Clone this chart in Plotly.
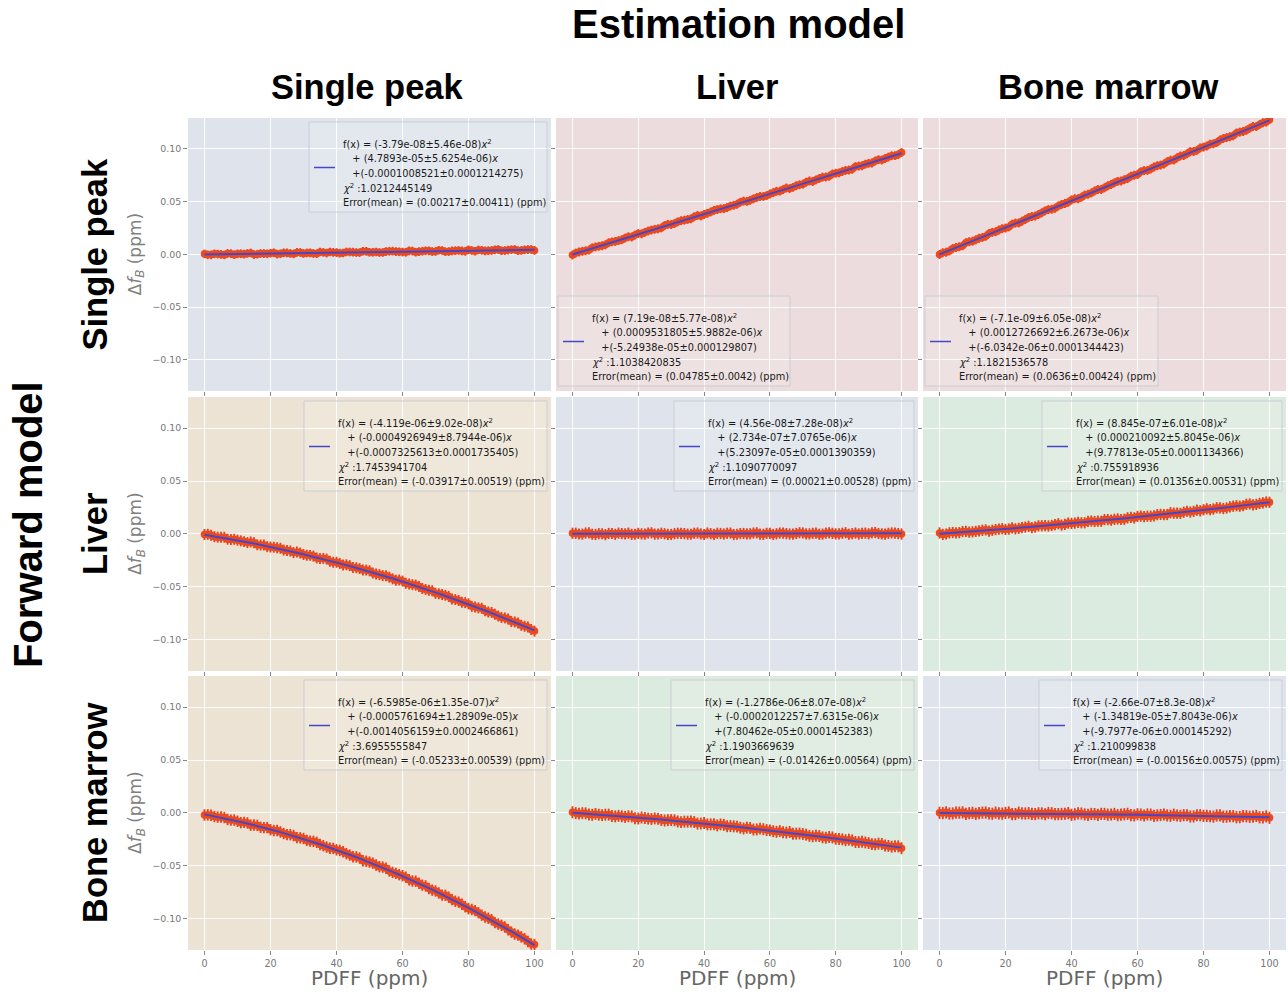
import plotly.graph_objects as go

W, H = 1288, 994

# PDFF sampling grids (ppm): even and odd PDFF values
pdff_even = list(range(0, 101, 2))
pdff_odd = list(range(1, 100, 2))

models = ["Single peak", "Liver", "Bone marrow"]

# Field-map shift estimates Δf_B (ppm); rows = forward model, columns = estimation model
# values at even PDFF
dfb_single_single = [0.0005, -0.0004, 0.0003, -0.0005, 0.0007, 0.0005, 0.0002, 0.0014, 0.0002, 0.0008,
                     0.0011, 0.0003, 0.0015, 0.0009, 0.0019, 0.0009, 0.0015, 0.0007, 0.0019, 0.0023,
                     0.0017, 0.0013, 0.0023, 0.0017, 0.0030, 0.0020, 0.0023, 0.0018, 0.0030, 0.0027,
                     0.0022, 0.0034, 0.0021, 0.0030, 0.0034, 0.0028, 0.0037, 0.0027, 0.0035, 0.0033,
                     0.0043, 0.0030, 0.0039, 0.0035, 0.0043, 0.0035, 0.0041, 0.0047, 0.0038, 0.0046,
                     0.0038]
dfb_single_liver = [-0.0006, 0.0023, 0.0035, 0.0063, 0.0077, 0.0091, 0.0119, 0.0131, 0.0155, 0.0165,
                    0.0198, 0.0209, 0.0231, 0.0243, 0.0273, 0.0283, 0.0309, 0.0325, 0.0337, 0.0370,
                    0.0378, 0.0403, 0.0425, 0.0434, 0.0459, 0.0476, 0.0506, 0.0513, 0.0540, 0.0550,
                    0.0573, 0.0599, 0.0615, 0.0624, 0.0652, 0.0666, 0.0697, 0.0707, 0.0733, 0.0741,
                    0.0770, 0.0786, 0.0800, 0.0833, 0.0841, 0.0864, 0.0887, 0.0895, 0.0923, 0.0937,
                    0.0966]
dfb_single_marrow = [-0.0001, 0.0020, 0.0055, 0.0073, 0.0111, 0.0125, 0.0153, 0.0172, 0.0209, 0.0231,
                     0.0250, 0.0287, 0.0298, 0.0332, 0.0360, 0.0379, 0.0413, 0.0428, 0.0460, 0.0482,
                     0.0517, 0.0528, 0.0563, 0.0583, 0.0616, 0.0632, 0.0663, 0.0693, 0.0709, 0.0742,
                     0.0758, 0.0795, 0.0810, 0.0842, 0.0858, 0.0894, 0.0917, 0.0938, 0.0975, 0.0987,
                     0.1018, 0.1046, 0.1062, 0.1099, 0.1117, 0.1152, 0.1166, 0.1197, 0.1213, 0.1249,
                     0.1278]
dfb_liver_single = [-0.0006, -0.0013, -0.0031, -0.0032, -0.0054, -0.0059, -0.0073, -0.0076, -0.0103, -0.0106,
                    -0.0124, -0.0131, -0.0153, -0.0162, -0.0172, -0.0195, -0.0203, -0.0227, -0.0232, -0.0258,
                    -0.0268, -0.0294, -0.0300, -0.0320, -0.0342, -0.0349, -0.0380, -0.0394, -0.0409, -0.0438,
                    -0.0446, -0.0473, -0.0484, -0.0516, -0.0532, -0.0562, -0.0573, -0.0591, -0.0621, -0.0647,
                    -0.0661, -0.0691, -0.0703, -0.0738, -0.0760, -0.0790, -0.0804, -0.0832, -0.0864, -0.0879,
                    -0.0919]
dfb_liver_liver = [0.0006, -0.0001, 0.0008, -0.0003, 0.0002, -0.0007, 0.0004, 0.0007, 0.0000, -0.0004,
                   0.0005, -0.0002, 0.0010, -0.0001, 0.0001, -0.0005, 0.0006, 0.0003, -0.0003, 0.0008,
                   -0.0006, 0.0002, 0.0006, -0.0001, 0.0008, -0.0003, 0.0004, 0.0001, 0.0010, -0.0004,
                   0.0005, 0.0001, 0.0008, -0.0001, 0.0004, 0.0009, 0.0000, 0.0007, -0.0002, 0.0010,
                   0.0000, 0.0006, -0.0003, 0.0008, 0.0005, 0.0001, 0.0013, 0.0000, 0.0005, 0.0008,
                   -0.0001]
dfb_liver_marrow = [0.0009, -0.0001, 0.0013, 0.0012, 0.0023, 0.0019, 0.0028, 0.0038, 0.0034, 0.0046,
                    0.0042, 0.0057, 0.0052, 0.0064, 0.0060, 0.0076, 0.0078, 0.0080, 0.0096, 0.0089,
                    0.0099, 0.0108, 0.0105, 0.0121, 0.0120, 0.0135, 0.0130, 0.0141, 0.0138, 0.0156,
                    0.0165, 0.0164, 0.0167, 0.0182, 0.0182, 0.0200, 0.0196, 0.0205, 0.0206, 0.0224,
                    0.0228, 0.0229, 0.0247, 0.0240, 0.0255, 0.0266, 0.0266, 0.0283, 0.0279, 0.0294,
                    0.0299]
dfb_marrow_single = [-0.0020, -0.0022, -0.0040, -0.0044, -0.0068, -0.0079, -0.0090, -0.0116, -0.0118, -0.0139,
                     -0.0159, -0.0167, -0.0195, -0.0206, -0.0234, -0.0242, -0.0267, -0.0278, -0.0310, -0.0334,
                     -0.0349, -0.0367, -0.0399, -0.0416, -0.0452, -0.0465, -0.0492, -0.0512, -0.0549, -0.0572,
                     -0.0593, -0.0632, -0.0646, -0.0683, -0.0715, -0.0738, -0.0777, -0.0797, -0.0835, -0.0864,
                     -0.0905, -0.0924, -0.0967, -0.0996, -0.1037, -0.1063, -0.1104, -0.1145, -0.1172, -0.1216,
                     -0.1245]
dfb_marrow_liver = [0.0006, -0.0007, -0.0004, -0.0018, -0.0017, -0.0017, -0.0030, -0.0028, -0.0038, -0.0034,
                    -0.0053, -0.0049, -0.0057, -0.0055, -0.0072, -0.0068, -0.0081, -0.0083, -0.0081, -0.0101,
                    -0.0096, -0.0108, -0.0118, -0.0113, -0.0125, -0.0130, -0.0147, -0.0142, -0.0156, -0.0154,
                    -0.0165, -0.0179, -0.0183, -0.0180, -0.0196, -0.0199, -0.0217, -0.0216, -0.0231, -0.0228,
                    -0.0245, -0.0250, -0.0253, -0.0275, -0.0272, -0.0285, -0.0297, -0.0294, -0.0312, -0.0315,
                    -0.0334]
dfb_marrow_marrow = [0.0001, 0.0005, -0.0005, 0.0002, -0.0010, 0.0000, -0.0002, 0.0003, -0.0008, -0.0005,
                     0.0000, -0.0011, 0.0002, -0.0006, -0.0010, -0.0004, -0.0013, -0.0003, -0.0011, -0.0008,
                     -0.0018, -0.0005, -0.0014, -0.0010, -0.0018, -0.0010, -0.0015, -0.0021, -0.0013, -0.0021,
                     -0.0013, -0.0025, -0.0016, -0.0023, -0.0015, -0.0027, -0.0025, -0.0022, -0.0034, -0.0022,
                     -0.0028, -0.0032, -0.0024, -0.0036, -0.0030, -0.0041, -0.0031, -0.0037, -0.0029, -0.0042,
                     -0.0046]

# values at odd PDFF
dfb_single_single_odd = [-0.0004, 0.0005, 0.0000, 0.0009, -0.0003, 0.0006, 0.0009, -0.0002, 0.0008, 0.0006,
                         0.0015, 0.0006, 0.0014, 0.0005, 0.0018, 0.0014, 0.0009, 0.0023, 0.0013, 0.0019,
                         0.0012, 0.0023, 0.0021, 0.0017, 0.0029, 0.0020, 0.0018, 0.0027, 0.0031, 0.0025,
                         0.0020, 0.0032, 0.0027, 0.0034, 0.0027, 0.0039, 0.0026, 0.0033, 0.0037, 0.0029,
                         0.0037, 0.0042, 0.0033, 0.0037, 0.0046, 0.0036, 0.0045, 0.0035, 0.0043, 0.0047]
dfb_single_liver_odd = [0.0013, 0.0029, 0.0041, 0.0071, 0.0082, 0.0111, 0.0123, 0.0139, 0.0168, 0.0183,
                        0.0195, 0.0222, 0.0238, 0.0251, 0.0285, 0.0293, 0.0320, 0.0332, 0.0357, 0.0365,
                        0.0390, 0.0417, 0.0433, 0.0444, 0.0466, 0.0494, 0.0503, 0.0527, 0.0549, 0.0558,
                        0.0586, 0.0600, 0.0630, 0.0636, 0.0661, 0.0685, 0.0692, 0.0721, 0.0734, 0.0763,
                        0.0774, 0.0797, 0.0807, 0.0838, 0.0856, 0.0867, 0.0899, 0.0910, 0.0936, 0.0947]
dfb_single_marrow_odd = [0.0016, 0.0033, 0.0065, 0.0082, 0.0121, 0.0138, 0.0161, 0.0199, 0.0215, 0.0244,
                         0.0261, 0.0297, 0.0315, 0.0350, 0.0364, 0.0394, 0.0425, 0.0437, 0.0474, 0.0494,
                         0.0528, 0.0543, 0.0571, 0.0602, 0.0616, 0.0651, 0.0679, 0.0697, 0.0719, 0.0751,
                         0.0783, 0.0797, 0.0829, 0.0847, 0.0880, 0.0895, 0.0934, 0.0954, 0.0976, 0.1010,
                         0.1028, 0.1049, 0.1085, 0.1108, 0.1125, 0.1160, 0.1178, 0.1214, 0.1233, 0.1255]
dfb_liver_single_odd = [-0.0004, -0.0026, -0.0031, -0.0050, -0.0051, -0.0066, -0.0082, -0.0084, -0.0105, -0.0121,
                        -0.0126, -0.0136, -0.0157, -0.0177, -0.0181, -0.0202, -0.0210, -0.0233, -0.0238, -0.0268,
                        -0.0279, -0.0292, -0.0317, -0.0328, -0.0342, -0.0370, -0.0385, -0.0396, -0.0425, -0.0436,
                        -0.0467, -0.0480, -0.0498, -0.0525, -0.0538, -0.0566, -0.0580, -0.0615, -0.0629, -0.0650,
                        -0.0685, -0.0699, -0.0726, -0.0742, -0.0776, -0.0794, -0.0829, -0.0842, -0.0873, -0.0904]
dfb_liver_liver_odd = [0.0006, -0.0002, 0.0009, -0.0005, 0.0001, 0.0004, -0.0004, 0.0003, 0.0007, -0.0003,
                       0.0000, 0.0008, -0.0002, 0.0006, -0.0005, 0.0002, 0.0005, -0.0002, 0.0006, 0.0000,
                       0.0008, -0.0005, 0.0004, 0.0006, -0.0006, 0.0003, 0.0000, 0.0008, -0.0002, 0.0005,
                       -0.0005, 0.0008, 0.0003, -0.0002, 0.0011, 0.0000, 0.0005, -0.0003, 0.0007, 0.0005,
                       0.0000, 0.0011, 0.0002, -0.0001, 0.0007, 0.0011, 0.0004, -0.0002, 0.0009, 0.0003]
dfb_liver_marrow_odd = [-0.0005, 0.0010, 0.0010, 0.0022, 0.0017, 0.0024, 0.0034, 0.0027, 0.0041, 0.0049,
                        0.0046, 0.0048, 0.0060, 0.0071, 0.0065, 0.0077, 0.0075, 0.0088, 0.0083, 0.0102,
                        0.0102, 0.0105, 0.0118, 0.0117, 0.0119, 0.0135, 0.0138, 0.0136, 0.0152, 0.0151,
                        0.0168, 0.0167, 0.0171, 0.0184, 0.0183, 0.0196, 0.0194, 0.0214, 0.0213, 0.0218,
                        0.0237, 0.0235, 0.0245, 0.0245, 0.0262, 0.0262, 0.0280, 0.0275, 0.0288, 0.0301]
dfb_marrow_single_odd = [-0.0019, -0.0034, -0.0039, -0.0062, -0.0068, -0.0092, -0.0095, -0.0115, -0.0136, -0.0139,
                         -0.0167, -0.0180, -0.0205, -0.0214, -0.0236, -0.0260, -0.0269, -0.0299, -0.0323, -0.0336,
                         -0.0355, -0.0385, -0.0414, -0.0427, -0.0457, -0.0475, -0.0508, -0.0523, -0.0563, -0.0584,
                         -0.0608, -0.0644, -0.0665, -0.0690, -0.0730, -0.0757, -0.0779, -0.0820, -0.0844, -0.0887,
                         -0.0913, -0.0943, -0.0984, -0.1010, -0.1051, -0.1078, -0.1127, -0.1155, -0.1190, -0.1239]
dfb_marrow_liver_odd = [-0.0002, -0.0003, -0.0016, -0.0010, -0.0021, -0.0016, -0.0033, -0.0032, -0.0032, -0.0050,
                        -0.0044, -0.0054, -0.0052, -0.0067, -0.0069, -0.0070, -0.0087, -0.0083, -0.0086, -0.0100,
                        -0.0109, -0.0108, -0.0109, -0.0126, -0.0127, -0.0140, -0.0139, -0.0157, -0.0149, -0.0162,
                        -0.0173, -0.0172, -0.0186, -0.0197, -0.0195, -0.0206, -0.0221, -0.0219, -0.0235, -0.0232,
                        -0.0247, -0.0258, -0.0260, -0.0276, -0.0279, -0.0295, -0.0291, -0.0308, -0.0319, -0.0316]
dfb_marrow_marrow_odd = [-0.0002, -0.0006, 0.0002, 0.0005, -0.0003, -0.0009, 0.0002, -0.0005, 0.0002, -0.0007,
                         0.0004, -0.0011, -0.0005, -0.0003, -0.0011, -0.0005, -0.0001, -0.0012, -0.0010, -0.0002,
                         -0.0013, -0.0006, -0.0018, -0.0011, -0.0009, -0.0017, -0.0010, -0.0017, -0.0009, -0.0023,
                         -0.0016, -0.0015, -0.0028, -0.0020, -0.0024, -0.0017, -0.0028, -0.0022, -0.0033, -0.0022,
                         -0.0028, -0.0035, -0.0023, -0.0035, -0.0031, -0.0040, -0.0032, -0.0036, -0.0042, -0.0033]

# Quadratic fit results per panel (row-major: forward model x estimation model)
quad_coef = ["-3.79e-08", "7.19e-08", "-7.1e-09", "-4.119e-06", "4.56e-08", "8.845e-07",
             "-6.5985e-06", "-1.2786e-06", "-2.66e-07"]
quad_err = ["5.46e-08", "5.77e-08", "6.05e-08", "9.02e-08", "7.28e-08", "6.01e-08",
            "1.35e-07", "8.07e-08", "8.3e-08"]
lin_coef = ["4.7893e-05", "0.0009531805", "0.0012726692", "-0.0004926949", "2.734e-07", "0.000210092",
            "-0.0005761694", "-0.0002012257", "-1.34819e-05"]
lin_err = ["5.6254e-06", "5.9882e-06", "6.2673e-06", "8.7944e-06", "7.0765e-06", "5.8045e-06",
           "1.28909e-05", "7.6315e-06", "7.8043e-06"]
const_coef = ["-0.0001008521", "-5.24938e-05", "-6.0342e-06", "-0.0007325613", "5.23097e-05", "9.77813e-05",
              "-0.0014056159", "7.80462e-05", "-9.7977e-06"]
const_err = ["0.0001214275", "0.000129807", "0.0001344423", "0.0001735405", "0.0001390359", "0.0001134366",
             "0.0002466861", "0.0001452383", "0.000145292"]
chi2 = ["1.0212445149", "1.1038420835", "1.1821536578", "1.7453941704", "1.1090770097", "0.755918936",
        "3.6955555847", "1.1903669639", "1.210099838"]
err_mean = ["0.00217", "0.04785", "0.0636", "-0.03917", "0.00021", "0.01356", "-0.05233", "-0.01426", "-0.00156"]
err_std = ["0.00411", "0.0042", "0.00424", "0.00519", "0.00528", "0.00531", "0.00539", "0.00564", "0.00575"]

# axis ticks
y_tickvals = [-0.10, -0.05, 0.00, 0.05, 0.10]
y_ticktext = ["\u22120.10", "\u22120.05", "0.00", "0.05", "0.10"]
x_tickvals = [0, 20, 40, 60, 80, 100]

series_even = [dfb_single_single, dfb_single_liver, dfb_single_marrow,
               dfb_liver_single, dfb_liver_liver, dfb_liver_marrow,
               dfb_marrow_single, dfb_marrow_liver, dfb_marrow_marrow]
series_odd = [dfb_single_single_odd, dfb_single_liver_odd, dfb_single_marrow_odd,
              dfb_liver_single_odd, dfb_liver_liver_odd, dfb_liver_marrow_odd,
              dfb_marrow_single_odd, dfb_marrow_liver_odd, dfb_marrow_marrow_odd]

# ---- styling / geometry (pixels) ----
col_px = [(188, 551), (556, 918), (923, 1286)]
row_px = [(118, 391), (397, 671), (676, 950)]
col_title_cx = [367, 737, 1108]
BG_BLUE, BG_PINK, BG_TAN, BG_GREEN = "#dfe3ec", "#ecdcdd", "#ece3d4", "#dcebdf"
panel_bg = [BG_BLUE, BG_PINK, BG_PINK,
            BG_TAN, BG_BLUE, BG_GREEN,
            BG_TAN, BG_GREEN, BG_BLUE]
legend_corner = ["ur", "ll", "ll", "ur", "ur", "ur", "ur", "ur", "ur"]
legend_w = [238, 232, 233, 243, 240, 240, 243, 243, 243]
LEGEND_H = 90
POINT = "#ec4a1d"
BAR = "#e33d1b"
FIT = "#4646c8"
TEXT_FONT = "DejaVu Sans"
TITLE_FONT = "Liberation Sans"


def px(x):
    return x / W


def py(y):
    return 1 - y / H


def axname(k, a):
    return f"{a}axis" if k == 1 else f"{a}axis{k}"


def axref(k, a):
    return a if k == 1 else f"{a}{k}"


fig = go.Figure()
shapes = []
annotations = []
layout_axes = {}
pdff_all = pdff_even + pdff_odd
pdff_line = sorted(pdff_all)

for idx in range(9):
    r, c = divmod(idx, 3)
    k = idx + 1
    x0, x1 = col_px[c]
    y0, y1 = row_px[r]

    a, b, c0 = float(quad_coef[idx]), float(lin_coef[idx]), float(const_coef[idx])
    fit = [a * x * x + b * x + c0 for x in pdff_line]

    fig.add_trace(go.Scatter(
        x=pdff_all, y=series_even[idx] + series_odd[idx], mode="markers",
        marker=dict(size=7.5, color=POINT, line=dict(width=0)),
        error_y=dict(type="constant", value=float(err_std[idx]), color=BAR, thickness=1.8, width=0),
        xaxis=axref(k, "x"), yaxis=axref(k, "y"), hoverinfo="skip"))
    fig.add_trace(go.Scatter(
        x=pdff_line, y=fit, mode="lines", line=dict(color=FIT, width=2),
        xaxis=axref(k, "x"), yaxis=axref(k, "y"), hoverinfo="skip"))

    layout_axes[axname(k, "x")] = dict(
        domain=[px(x0), px(x1)], anchor=axref(k, "y"), range=[-5, 105],
        tickvals=x_tickvals, showticklabels=(r == 2), ticks="outside", ticklen=4,
        tickcolor="#888888", tickfont=dict(family=TEXT_FONT, size=9.6, color="#777777"),
        showgrid=True, gridcolor="rgba(255,255,255,0.9)", gridwidth=1,
        zeroline=False, showline=False)
    layout_axes[axname(k, "y")] = dict(
        domain=[py(y1), py(y0)], anchor=axref(k, "x"), range=[-0.1296, 0.1294],
        tickvals=y_tickvals, ticktext=y_ticktext, showticklabels=(c == 0),
        ticks="outside", ticklen=4, tickcolor="#888888",
        tickfont=dict(family=TEXT_FONT, size=9.4, color="#777777"),
        showgrid=True, gridcolor="rgba(255,255,255,0.9)", gridwidth=1,
        zeroline=False, showline=False)

    # panel background
    shapes.append(dict(type="rect", xref=f"{axref(k, 'x')} domain", yref=f"{axref(k, 'y')} domain",
                       x0=0, x1=1, y0=0, y1=1, fillcolor=panel_bg[idx], line=dict(width=0),
                       layer="below"))

    # fit legend box
    w = legend_w[idx]
    if legend_corner[idx] == "ur":
        bx1 = x1 - 4
        bx0 = bx1 - w
        by0 = y0 + 4
    else:
        bx0 = x0 + 2
        bx1 = bx0 + w
        by0 = y1 - 5 - LEGEND_H
    by1 = by0 + LEGEND_H
    shapes.append(dict(type="rect", xref="paper", yref="paper",
                       x0=px(bx0), x1=px(bx1), y0=py(by1), y1=py(by0),
                       fillcolor="rgba(255,255,255,0.14)",
                       line=dict(color="rgba(200,202,212,0.9)", width=1), layer="above"))
    shapes.append(dict(type="line", xref="paper", yref="paper",
                       x0=px(bx0 + 5), x1=px(bx0 + 26), y0=py(by0 + 45.5), y1=py(by0 + 45.5),
                       line=dict(color=FIT, width=1.5), layer="above"))

    nb = "\u00a0\u00a0\u00a0"
    lines = [
        f"f(x) = ({quad_coef[idx]}\u00b1{quad_err[idx]})<i>x</i><sup>2</sup>",
        f"{nb}+ ({lin_coef[idx]}\u00b1{lin_err[idx]})<i>x</i>",
        f"{nb}+({const_coef[idx]}\u00b1{const_err[idx]})",
        f"<i>\u03c7</i><sup>2</sup> :{chi2[idx]}",
        f"Error(mean) = ({err_mean[idx]}\u00b1{err_std[idx]}) (ppm)",
    ]
    for i, t in enumerate(lines):
        annotations.append(dict(
            text=t, xref="paper", yref="paper", x=px(bx0 + 32), y=py(by0 + 22 + i * 14.6),
            xanchor="left", yanchor="middle", showarrow=False, align="left",
            font=dict(family=TEXT_FONT, size=9.8, color="#1a1a1a")))

# headings
annotations.append(dict(text="<b>Estimation model</b>", x=px(738), y=py(24), xref="paper", yref="paper",
                        showarrow=False, xanchor="center", yanchor="middle",
                        font=dict(family=TITLE_FONT, size=40, color="black")))
annotations.append(dict(text="<b>Forward model</b>", x=px(28), y=py(525), xref="paper", yref="paper",
                        showarrow=False, xanchor="center", yanchor="middle", textangle=-90,
                        font=dict(family=TITLE_FONT, size=40, color="black")))
for c, name in enumerate(models):
    cx = (col_px[c][0] + col_px[c][1]) / 2
    annotations.append(dict(text=f"<b>{name}</b>", x=px(col_title_cx[c]), y=py(87),
                            xref="paper", yref="paper",
                            showarrow=False, xanchor="center", yanchor="middle",
                            font=dict(family=TITLE_FONT, size=34.5, color="black")))
    annotations.append(dict(text="PDFF (ppm)", x=px(cx), y=py(978), xref="paper", yref="paper",
                            showarrow=False, xanchor="center", yanchor="middle",
                            font=dict(family=TEXT_FONT, size=20, color="#666666")))
for r, name in enumerate(models):
    cy = (row_px[r][0] + row_px[r][1]) / 2
    annotations.append(dict(text=f"<b>{name}</b>", x=px(95), y=py(cy), xref="paper", yref="paper",
                            showarrow=False, xanchor="center", yanchor="middle", textangle=-90,
                            font=dict(family=TITLE_FONT, size=34.5, color="black")))
    annotations.append(dict(text="\u0394<i>f</i><sub><i>B</i></sub> (ppm)", x=px(136), y=py(cy),
                            xref="paper", yref="paper", showarrow=False,
                            xanchor="center", yanchor="middle", textangle=-90,
                            font=dict(family=TEXT_FONT, size=17, color="#808080")))

fig.update_layout(
    width=W, height=H, margin=dict(l=0, r=0, t=0, b=0),
    paper_bgcolor="white", plot_bgcolor="rgba(0,0,0,0)",
    showlegend=False, shapes=shapes, annotations=annotations,
    **layout_axes)

fig.write_html("out.html")
